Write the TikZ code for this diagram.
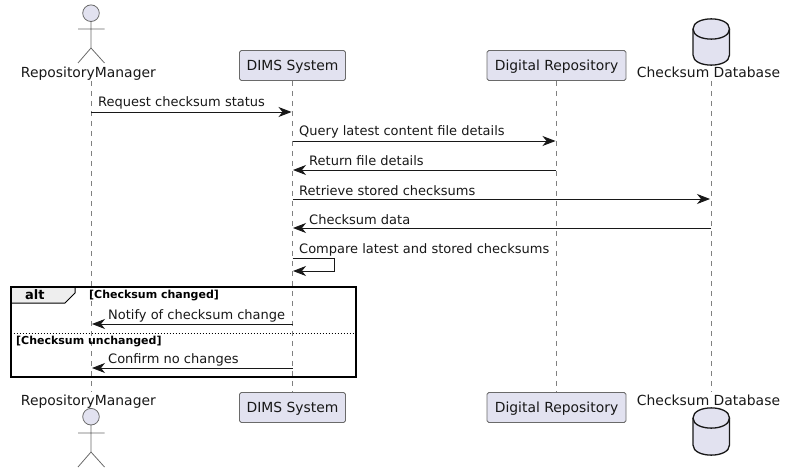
\documentclass[tikz,border=0pt]{standalone}
\usepackage{fontspec}
\setmainfont{DejaVu Sans}
\usetikzlibrary{arrows.meta,calc}
\definecolor{partfill}{HTML}{E2E2F0}
\definecolor{partline}{HTML}{6A6A6A}
\definecolor{lifec}{HTML}{808080}
\definecolor{inkc}{HTML}{181818}
\definecolor{tabfill}{HTML}{EEEEEE}
\tikzset{
  partbox/.style={draw=partline,fill=partfill,rounded corners=1.8pt,line width=0.9pt,minimum height=30pt,inner sep=0pt,text=inkc,text height=10pt,text depth=0pt,font=\fontsize{13.9}{15}\selectfont},
  actorlabel/.style={anchor=base,inner sep=0pt,text=inkc,font=\fontsize{13.9}{15}\selectfont},
  lifeline/.style={draw=lifec,line width=0.8pt,dash pattern=on 5pt off 5pt},
  msg/.style={draw=inkc,line width=0.9pt,-{Stealth[length=13pt,width=10pt,inset=4pt,fill=inkc]}},
  msglabel/.style={anchor=base west,inner sep=0pt,text=inkc,font=\fontsize{13}{15}\selectfont},
  guardlabel/.style={anchor=base west,inner sep=0pt,text=black,font=\fontsize{11}{13}\selectfont\bfseries},
  actorline/.style={draw=partline,line width=0.8pt},
  dbshape/.style={draw=inkc,fill=partfill,line width=1.3pt},
  frameline/.style={draw=black,line width=2pt},
}
\begin{document}
\begin{tikzpicture}[x=1pt,y=-1pt]
\useasboundingbox (0,0) rectangle (786,473);
% participants
\node[actorlabel] (rmT) at (88.4,78) {RepositoryManager};
\node[actorlabel] (rmB) at (88.4,405) {RepositoryManager};
\node[partbox,minimum width=106pt] (dsT) at (292.5,65.5) {DIMS System};
\node[partbox,minimum width=106pt] (dsB) at (292.5,407.5) {DIMS System};
\node[partbox,minimum width=139pt] (drT) at (556.5,65.5) {Digital Repository};
\node[partbox,minimum width=139pt] (drB) at (556.5,407.5) {Digital Repository};
\node[actorlabel] (dbT) at (708.5,78) {Checksum Database};
\node[actorlabel] (dbB) at (708.5,405) {Checksum Database};
% lifelines
\coordinate (rmTl) at (91,81);
\coordinate (rmBl) at (91,392);
\coordinate (dbTl) at (711,81);
\coordinate (dbBl) at (711,392);
\draw[lifeline] (rmTl) -- (rmBl);
\draw[lifeline] (dsT.south) -- (dsB.north);
\draw[lifeline] (drT.south) -- (drB.north);
\draw[lifeline] (dbTl) -- (dbBl);
% actors
\draw[actorline,fill=partfill] (91,13.2) circle (8.3);
\draw[actorline] (91,21.5) -- (91,48) (78,29) -- (104.5,29) (78,63) -- (91,48) -- (104.5,63);
\draw[actorline,fill=partfill] (91,416.7) circle (8.3);
\draw[actorline] (91,425) -- (91,452) (78,433) -- (104.5,433) (78,467) -- (91,452) -- (104.5,467);
% databases
\draw[dbshape] (693,29) .. controls (693,15.5) and (729.5,15.5) .. (729.5,29) -- (729.5,55)
  .. controls (729.5,68.5) and (693,68.5) .. (693,55) -- cycle;
\draw[dbshape,fill=none] (693,29) .. controls (693,42.5) and (729.5,42.5) .. (729.5,29);
\draw[dbshape] (693,418) .. controls (693,404.5) and (729.5,404.5) .. (729.5,418) -- (729.5,445)
  .. controls (729.5,458.5) and (693,458.5) .. (693,445) -- cycle;
\draw[dbshape,fill=none] (693,418) .. controls (693,431.5) and (729.5,431.5) .. (729.5,418);
% messages
\coordinate (a1) at (91,112); \coordinate (b1) at (291.5,112);
\coordinate (b2) at (292.5,141); \coordinate (c2) at (555.5,141);
\coordinate (c3) at (556,170); \coordinate (b3) at (293,170);
\coordinate (b4) at (292.5,199); \coordinate (d4) at (710,199);
\coordinate (d5) at (711,228); \coordinate (b5) at (293,228);
\coordinate (s1) at (292.5,258); \coordinate (s2) at (334.5,258);
\coordinate (s3) at (334.5,271); \coordinate (s4) at (293,271);
\coordinate (b6) at (292.5,324); \coordinate (a6) at (92,324);
\coordinate (b7) at (292.5,368); \coordinate (a7) at (92,368);
\draw[msg] (a1) -- (b1);
\draw[msg] (b2) -- (c2);
\draw[msg] (c3) -- (b3);
\draw[msg] (b4) -- (d4);
\draw[msg] (d5) -- (b5);
\draw[msg] (s1) -- (s2) -- (s3) -- (s4);
\draw[msg] (b6) -- (a6);
\draw[msg] (b7) -- (a7);
\node[msglabel] (m1) at (98,107) {Request checksum status};
\node[msglabel] (m2) at (299,136) {Query latest content file details};
\node[msglabel] (m3) at (309,166) {Return file details};
\node[msglabel] (m4) at (299,195) {Retrieve stored checksums};
\node[msglabel] (m5) at (309,224) {Checksum data};
\node[msglabel] (m6) at (299,253) {Compare latest and stored checksums};
\node[msglabel] (m7) at (108,319) {Notify of checksum change};
\node[msglabel] (m8) at (108,363) {Confirm no changes};
% alt frame
\draw[line width=1pt,draw=black,fill=tabfill] (10.5,286.5) -- (75,286.5) -- (75,293) -- (65,303) -- (10.5,303) -- cycle;
\draw[frameline] (10.5,286.5) rectangle (355.5,376.5);
\draw[draw=black,line width=0.8pt,dash pattern=on 1.5pt off 1.5pt] (10.5,333) -- (355.5,333);
\node[anchor=base west,inner sep=0pt,text=black,font=\fontsize{13}{15}\selectfont\bfseries] (altl) at (25,299) {alt};
\node[guardlabel] (g1) at (89,298) {[Checksum changed]};
\node[guardlabel] (g2) at (16,344) {[Checksum unchanged]};
\end{tikzpicture}
\end{document}
